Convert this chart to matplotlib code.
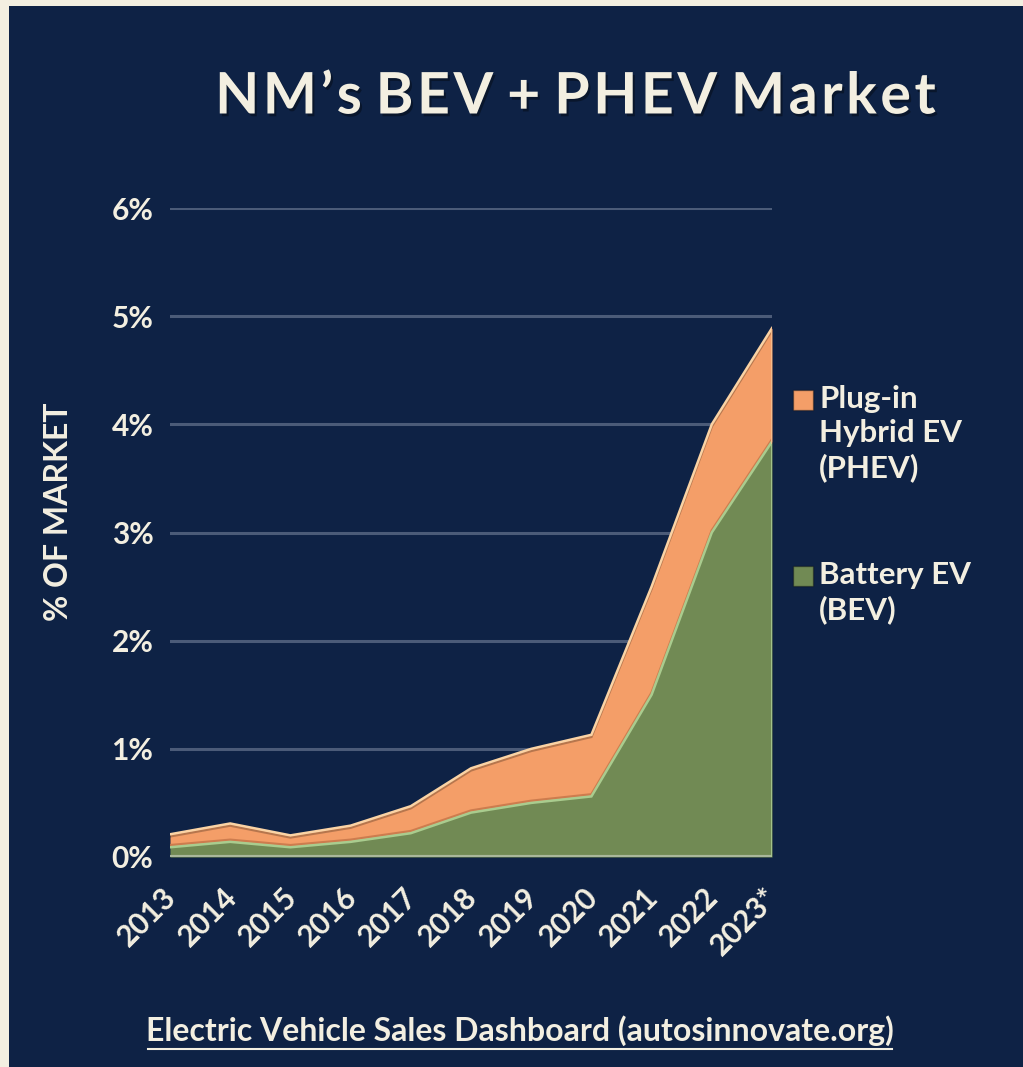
import matplotlib
matplotlib.use("Agg")
import matplotlib.pyplot as plt
import matplotlib.patheffects as pe
import matplotlib.transforms as mtransforms
from matplotlib.patches import Rectangle
import numpy as np

years = ["2013", "2014", "2015", "2016", "2017", "2018", "2019", "2020", "2021", "2022", "2023*"]
bev = [0.09, 0.14, 0.09, 0.14, 0.22, 0.41, 0.50, 0.56, 1.50, 3.00, 3.84]
total = [0.21, 0.31, 0.20, 0.29, 0.47, 0.82, 1.00, 1.13, 2.50, 4.00, 4.89]
phev = [t - b for t, b in zip(total, bev)]
yticks = [0, 1, 2, 3, 4, 5, 6]
ytick_labels = ["0%", "1%", "2%", "3%", "4%", "5%", "6%"]

NAVY = "#0e2245"
CREAM = "#f3efe1"
ORANGE = "#f49e68"
GREEN = "#718a54"
GRID = "#4b5b78"
FONT = ["Lato", "DejaVu Sans"]

fig = plt.figure(figsize=(10.23, 10.67), dpi=100)
fig.patch.set_facecolor(CREAM)
fig.add_artist(Rectangle((9 / 1023, 0), 1 - 9 / 1023, 1 - 6 / 1067,
                         transform=fig.transFigure, facecolor=NAVY, edgecolor="none", zorder=0))

W, H = 1023, 1067
x0, x1 = 170, 772
y0, y1 = 857, 208
ax = fig.add_axes([x0 / W, 1 - y0 / H, (x1 - x0) / W, (y0 - y1) / H])
ax.set_facecolor("none")
x = np.arange(len(years))
ax.set_xlim(0, len(years) - 1)
ax.set_ylim(0, 6)

for t in yticks[1:]:
    ax.axhline(t, color=GRID, lw=2.2, zorder=1)

ax.fill_between(x, 0, bev, color=GREEN, zorder=2, lw=0)
ax.fill_between(x, bev, total, color=ORANGE, zorder=2, lw=0)

# bevel-like edges
shadow = [pe.SimpleLineShadow(offset=(0, -1.5), shadow_color="#000000", alpha=0.25), pe.Normal()]
ax.plot(x, total, color="#fbd3a4", lw=1.8, zorder=3, path_effects=shadow, solid_joinstyle="miter")
ax.plot(x, bev, color="#a9cc8e", lw=1.8, zorder=3, solid_joinstyle="miter",
        path_effects=[pe.SimpleLineShadow(offset=(0, 1.5), shadow_color="#c9794c", alpha=0.9), pe.Normal()])
ax.plot([x[0], x[-1]], [0, 0], color="#a9b79a", lw=3, zorder=3, solid_capstyle="butt")
ax.plot([x[-1], x[-1]], [0, bev[-1]], color="#a9c890", lw=2, zorder=3)
ax.plot([x[-1], x[-1]], [bev[-1], total[-1]], color="#f8c08e", lw=2, zorder=3)

for s in ax.spines.values():
    s.set_visible(False)
ax.tick_params(length=0)
ax.set_yticks(yticks)
ax.set_yticklabels(ytick_labels, fontsize=21.5, fontweight="bold", color=CREAM, family=FONT)
ax.tick_params(axis="y", pad=12)
ax.set_xticks(x)
ax.set_xticklabels(years, fontsize=21.5, fontweight="bold", color=CREAM, family=FONT,
                   rotation=45, ha="right", rotation_mode="anchor")
ax.tick_params(axis="x", pad=6)
offset = mtransforms.ScaledTranslation(-8 / 100, -17 / 100, fig.dpi_scale_trans)
for lbl in ax.get_xticklabels():
    lbl.set_transform(lbl.get_transform() + offset)

fig.text(58 / W, 1 - 512 / H, "% OF MARKET", rotation=90, ha="center", va="center",
         fontsize=23, fontweight="bold", color=CREAM, family=FONT)

title = "N M ’ s  B E V  +  P H E V  M a r k e t".replace(" ", "\u200a").replace("\u200a\u200a", " ")
fig.text(576 / W, 1 - 97 / H, title, ha="center", va="center", fontsize=41.2, fontweight="bold",
         color=CREAM, family=FONT,
         path_effects=[pe.SimplePatchShadow(offset=(1.5, -2), shadow_rgbFace="#000000", alpha=0.35), pe.Normal()])

# legend
leg_items = [("Plug-in\nHybrid EV\n(PHEV)", ORANGE, 400), ("Battery EV\n(BEV)", GREEN, 576)]
for label, col, yc in leg_items:
    fig.add_artist(Rectangle((793 / W, 1 - (yc + 10) / H), 20 / W, 20 / H, transform=fig.transFigure,
                             facecolor=col, edgecolor="#00000055", lw=1))
    fig.text(819 / W, 1 - (yc - 15) / H, label, ha="left", va="top", fontsize=22.5, fontweight="bold",
             color=CREAM, family=FONT, linespacing=1.25)

fig.text(520 / W, 1 - 1031 / H, "Electric Vehicle Sales Dashboard (autosinnovate.org)", ha="center",
         va="center", fontsize=23, fontweight="bold", color=CREAM, family=FONT)
fig.add_artist(plt.Line2D([148 / W, 892 / W], [1 - 1049 / H, 1 - 1049 / H], transform=fig.transFigure,
                          color=CREAM, lw=1.5))

fig.savefig("out.png", dpi=100, facecolor=fig.get_facecolor())
